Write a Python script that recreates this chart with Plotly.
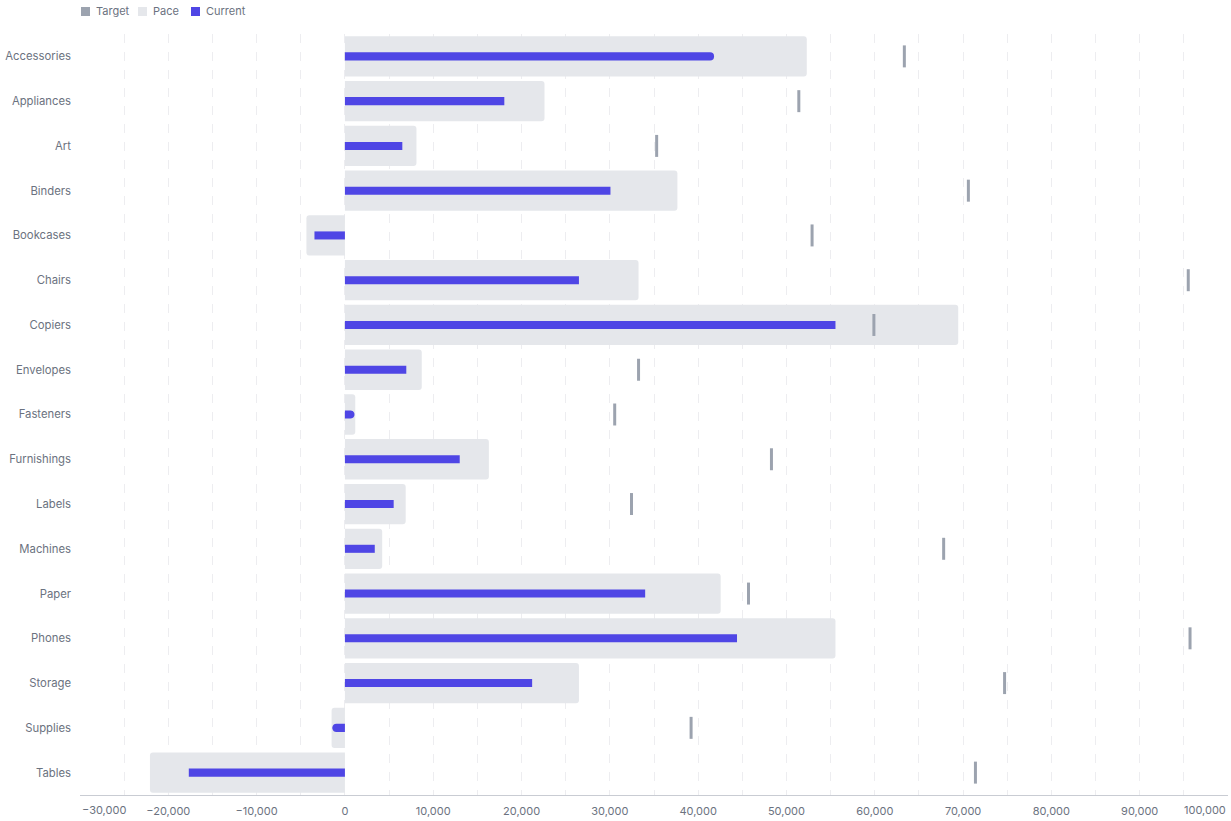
import plotly.graph_objects as go

categories = ["Accessories", "Appliances", "Art", "Binders", "Bookcases", "Chairs",
              "Copiers", "Envelopes", "Fasteners", "Furnishings", "Labels", "Machines",
              "Paper", "Phones", "Storage", "Supplies", "Tables"]
target = [63350, 51400, 35300, 70600, 52900, 95500, 59900, 33250, 30550, 48300,
          32450, 67800, 45700, 95700, 74700, 39200, 71400]
pace = [52300, 22600, 8100, 37650, -4360, 33250, 69450, 8700, 1170, 16300,
        6880, 4220, 42550, 55550, 26500, -1510, -22080]
current = [41800, 18050, 6500, 30070, -3450, 26500, 55550, 6950, 850, 13000,
           5520, 3380, 34000, 44400, 21200, -1200, -17680]
x_ticks = list(range(-30000, 100001, 10000))
legend_items = [("Target", "#9ca3af"), ("Pace", "#e5e7eb"), ("Current", "#4f46e5")]

FONT = "Inter, Roboto, sans-serif"
LABEL = "#6b7280"
GRID = "#ededf0"


def fmt(v):
    return f"{v:,}".replace("-", "\u2212")


fig = go.Figure()
fig.add_trace(go.Bar(
    y=categories, x=pace, orientation="h", name="Pace", width=0.9,
    marker=dict(color="#e5e7eb", cornerradius=3, line=dict(width=0)),
    showlegend=False))
fig.add_trace(go.Bar(
    y=categories, x=current, orientation="h", name="Current", width=0.18,
    marker=dict(color="#4f46e5", cornerradius=4, line=dict(width=0)),
    showlegend=False))
fig.add_trace(go.Scatter(
    y=categories, x=target, mode="markers", name="Target",
    marker=dict(symbol="line-ns", size=15.7, color="#9ca3af",
                line=dict(width=3, color="#9ca3af")),
    showlegend=False))

inner_ticks = x_ticks[1:-1]
fig.update_xaxes(
    range=[x_ticks[0], x_ticks[-1]],
    tickvals=inner_ticks, ticktext=[fmt(v) for v in inner_ticks],
    showgrid=True, gridcolor=GRID, griddash="dash", gridwidth=1,
    minor=dict(dtick=5000, tick0=0, showgrid=True, gridcolor=GRID, griddash="dash", gridwidth=1),
    zeroline=False, showline=True, linecolor="#c9ccd3", linewidth=1,
    tickfont=dict(family=FONT, size=11, color=LABEL), ticklabelstandoff=6,
    fixedrange=True)
fig.update_yaxes(
    categoryorder="array", categoryarray=categories,
    range=[len(categories) - 0.5, -0.5],
    showgrid=False, zeroline=False, showline=False,
    tickfont=dict(family=FONT, size=11.3, color=LABEL), ticklabelstandoff=8,
    fixedrange=True)

# end tick labels kept inside the plot edges
for v, anchor in [(x_ticks[0], "left"), (x_ticks[-1], "right")]:
    fig.add_annotation(x=v, xref="x", y=0, yref="paper", yanchor="middle", yshift=-15,
                       xanchor=anchor, text=fmt(v), showarrow=False,
                       font=dict(family=FONT, size=11, color=LABEL))

# legend
offsets = [0, 57, 110]
for (name, color), off in zip(legend_items, offsets):
    fig.add_shape(type="rect", xref="paper", yref="paper", xsizemode="pixel", ysizemode="pixel",
                  xanchor=0, yanchor=1, x0=off + 1, x1=off + 10, y0=18, y1=27,
                  fillcolor=color, line=dict(width=0))
    fig.add_annotation(x=0, xref="paper", xanchor="left", xshift=off + 14,
                       y=1, yref="paper", yanchor="middle", yshift=23,
                       text=name, showarrow=False,
                       font=dict(family=FONT, size=11, color=LABEL))

fig.update_layout(
    width=1231, height=821,
    margin=dict(l=80, r=3, t=34, b=26),
    barmode="overlay", bargap=0.1,
    plot_bgcolor="white", paper_bgcolor="white",
    font=dict(family=FONT, size=11, color=LABEL),
    showlegend=False)

fig.write_html("out.html")
